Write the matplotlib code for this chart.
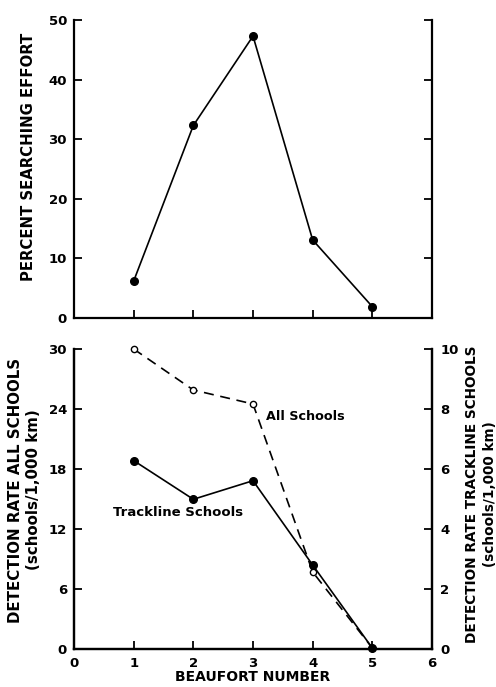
import matplotlib
matplotlib.use("Agg")
import matplotlib.pyplot as plt

beaufort = [1, 2, 3, 4, 5]
effort_pct = [6.2, 32.3, 47.3, 13.1, 1.9]
all_schools = [30.0, 25.9, 24.5, 7.7, 0.1]          # left axis (schools/1,000 km)
trackline_schools = [6.28, 4.99, 5.61, 2.8, 0.03]   # right axis (schools/1,000 km)

plt.rcParams['font.family'] = ['DejaVu Sans']
plt.rcParams['font.weight'] = 'bold'

fig = plt.figure(figsize=(4.96, 6.87), dpi=100)
W, H = 496, 687
def rect(x0, x1, ytop, ybot):
    return [x0 / W, 1 - ybot / H, (x1 - x0) / W, (ybot - ytop) / H]

lw_sp = 1.6
tick_kw = dict(direction='in', length=6, width=1.3, labelsize=9.5)

# ---- top panel ----
ax1 = fig.add_axes(rect(74, 432, 20, 318))
ax1.plot(beaufort, effort_pct, color='black', lw=1.2, marker='o', ms=5.5,
         markerfacecolor='black', clip_on=False)
ax1.set_xlim(0, 6)
ax1.set_ylim(0, 50)
ax1.set_xticks([1, 2, 3, 4, 5])
ax1.set_yticks([0, 10, 20, 30, 40, 50])
ax1.tick_params(axis='x', labelbottom=False, **tick_kw)
ax1.tick_params(axis='y', right=True, left=True, labelright=False, pad=5, **tick_kw)
ax1.spines['top'].set_visible(False)
for s in ['left', 'right', 'bottom']:
    ax1.spines[s].set_linewidth(lw_sp)
fig.text(28.5 / W, 1 - 157 / H, 'PERCENT SEARCHING EFFORT', fontsize=10.7,
         fontweight='bold', rotation=90, ha='center', va='center')

# ---- bottom panel ----
ax2 = fig.add_axes(rect(74, 432, 349, 649))
ax2.plot(beaufort, all_schools, color='black', lw=1.2, ls=(0, (6, 4)), marker='o',
         ms=4.5, markerfacecolor='white', markeredgewidth=1.0, clip_on=False, zorder=3)
ax2.set_xlim(0, 6)
ax2.set_ylim(0, 30)
ax2.set_xticks([0, 1, 2, 3, 4, 5, 6])
ax2.set_yticks([0, 6, 12, 18, 24, 30])
ax2.tick_params(axis='x', pad=6, **tick_kw)
ax2.tick_params(axis='y', pad=5, **tick_kw)
ax2.spines['top'].set_visible(False)
for s in ['left', 'right', 'bottom']:
    ax2.spines[s].set_linewidth(lw_sp)
ax2.set_xlabel('BEAUFORT NUMBER', fontsize=10, fontweight='bold', labelpad=0)

ax3 = ax2.twinx()
ax3.plot(beaufort, trackline_schools, color='black', lw=1.2, marker='o', ms=5.5,
         markerfacecolor='black', clip_on=False, zorder=3)
ax3.set_ylim(0, 10)
ax3.set_yticks([0, 2, 4, 6, 8, 10])
ax3.tick_params(axis='y', pad=6, **tick_kw)
ax3.spines['top'].set_visible(False)
for s in ['left', 'right', 'bottom']:
    ax3.spines[s].set_linewidth(lw_sp)

fig.text(25 / W, 1 - 490 / H, 'DETECTION RATE ALL SCHOOLS\n(schools/1,000 km)',
         fontsize=10.8, fontweight='bold', rotation=90, ha='center', va='center',
         linespacing=1.25, multialignment='center')
fig.text(481 / W, 1 - 494 / H, 'DETECTION RATE TRACKLINE SCHOOLS\n(schools/1,000 km)',
         fontsize=9.8, fontweight='bold', rotation=90, ha='center', va='center',
         linespacing=1.3, multialignment='center')

ax2.text(3.22, 23.2, 'All Schools', fontsize=9.2, fontweight='bold', va='center', ha='left')
ax2.text(0.65, 13.6, 'Trackline Schools', fontsize=9.5, fontweight='bold', va='center', ha='left')

fig.savefig('out.png', dpi=100)
